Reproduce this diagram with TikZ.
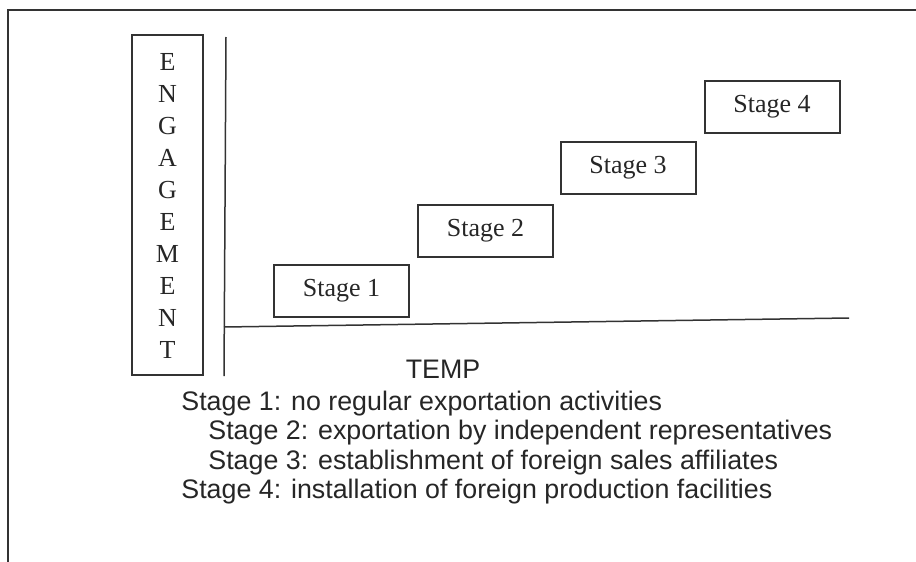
\documentclass[tikz,border=0pt]{standalone}
\usepackage{fontspec}
\setmainfont{Liberation Serif}
\setsansfont{Liberation Sans}

\tikzset{
  frameline/.style={draw=black!80,line width=1pt},
  axisline/.style={draw=black!80,line width=0.75pt},
  stagebox/.style={draw=black!80,line width=1pt,minimum width=67.5pt,minimum height=26pt,
    inner sep=0pt,text=black!85,font=\fontsize{13}{15}\selectfont},
  letter/.style={inner sep=0pt,text=black!85,font=\fontsize{13}{15}\selectfont},
  legend/.style={anchor=base west,inner sep=0pt,text=black!85,font=\sffamily\fontsize{13.4}{15}\selectfont},
}

\begin{document}
\begin{tikzpicture}[x=0.5pt,y=-0.5pt]
  \useasboundingbox (0,0) rectangle (916,562);
  \coordinate (tl) at (8,10);
  \coordinate (tr) at (916,10);
  \coordinate (bl) at (8,562);
  \draw[frameline] (tr) -- (tl) -- (bl);

  \node[frameline,minimum width=35.5pt,minimum height=170pt,inner sep=0pt] (eng) at (167.5,205) {};
  \foreach \l [count=\i from 0] in {E,N,G,A,G,E,M,E,N,T} {
    \node[letter] (eng\i) at (167.5,{62+32*\i}) {\l};
  }

  \coordinate (ytop) at (226,37);
  \coordinate (ybot) at (224,376);
  \coordinate (xleft) at (224,327);
  \coordinate (xright) at (849,318);
  \draw[axisline] (ytop) -- (ybot);
  \draw[axisline] (xleft) -- (xright);

  \foreach \n/\x/\y in {1/341.5/290.5,2/485.5/231,3/628/168,4/772/107} {
    \node[stagebox] (stage\n) at (\x,\y) {Stage \n};
  }

  \node[letter,font=\sffamily\fontsize{13.4}{15}\selectfont] (temp) at (443,369) {TEMP};

  \node[legend] (legend1) at (181,410) {Stage 1: no regular exportation activities};
  \node[legend] (legend2) at (208,439.5) {Stage 2: exportation by independent representatives};
  \node[legend] (legend3) at (208,469) {Stage 3: establishment of foreign sales affiliates};
  \node[legend] (legend4) at (181,498) {Stage 4: installation of foreign production facilities};
\end{tikzpicture}
\end{document}
